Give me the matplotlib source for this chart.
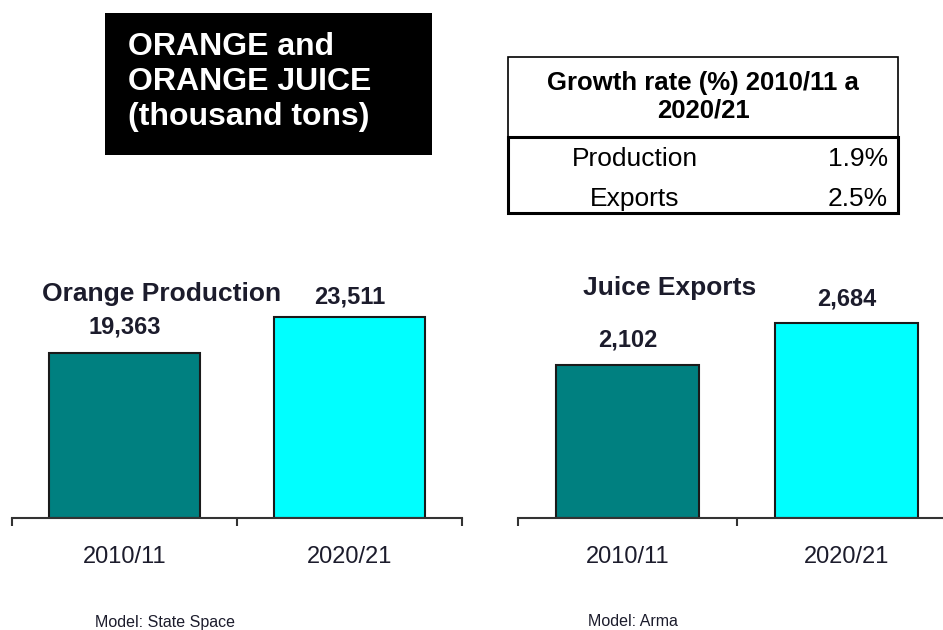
import matplotlib
matplotlib.use("Agg")
import matplotlib.pyplot as plt
from matplotlib.patches import Rectangle

plt.rcParams['font.family'] = ['Liberation Sans', 'DejaVu Sans']

# data
years = ["2010/11", "2020/21"]
orange_production = [19363, 23511]
juice_exports = [2102, 2684]
growth_rows = ["Production", "Exports"]
growth_rates = ["1.9%", "2.5%"]
panel_titles = ["Orange Production", "Juice Exports"]
model_names = ["Model: State Space", "Model: Arma"]

W, H = 943, 630
fig = plt.figure(figsize=(W / 100, H / 100), dpi=100)


def fx(px):
    return px / W


def fy(py):
    return 1 - py / H


bar_colors = ["#008080", "#00FFFF"]
text_color = "#1c1c2c"


def bar_panel(left_px, unit_px, px_per_val, values, bar_w, label_offsets):
    # axes box in pixels: bottom at y=518, 268 px high
    ax = fig.add_axes([fx(left_px), fy(518), fx(2 * unit_px), 268 / H])
    ax.bar(range(len(values)), values, width=bar_w, color=bar_colors,
           edgecolor="#1a1a1a", linewidth=1.5, zorder=2)
    ax.set_xlim(-0.5, 1.5)
    ax.set_ylim(0, 268 / px_per_val)
    for s in ["top", "right", "left"]:
        ax.spines[s].set_visible(False)
    ax.spines["bottom"].set_color("#333333")
    ax.spines["bottom"].set_linewidth(1.5)
    ax.set_yticks([])
    ax.set_xticks([-0.5, 0.5, 1.5])
    ax.set_xticklabels([])
    ax.tick_params(axis="x", direction="out", length=6, width=1.5, color="#333333")
    ax.set_xticks([0, 1], minor=True)
    ax.set_xticklabels(years, minor=True, fontsize=17, color=text_color)
    ax.tick_params(axis="x", which="minor", length=0, pad=20)
    for i, v in enumerate(values):
        ax.annotate(f"{v:,}", (i, v), xytext=(0, label_offsets[i]),
                    textcoords="offset points", ha="center", va="center",
                    fontsize=17, fontweight="bold", color=text_color)
    ax.patch.set_alpha(0)
    return ax


bar_panel(12, 225, 0.00853, orange_production, 0.667, [18.5, 14.5])
bar_panel(518, 219, 0.0728, juice_exports, 0.657, [18, 17])

# panel titles
fig.text(fx(162), fy(294), panel_titles[0], ha="center", va="center",
         fontsize=19, fontweight="bold", color=text_color)
fig.text(fx(670), fy(288), panel_titles[1], ha="center", va="center",
         fontsize=19, fontweight="bold", color=text_color)

# model notes
for x, name in zip([165, 633], model_names):
    fig.text(fx(x), fy(622), name, ha="center", va="center", fontsize=11.5,
             color=text_color)

# black title box
fig.patches.append(Rectangle((fx(105), fy(155)), fx(327), 142 / H,
                             transform=fig.transFigure, facecolor="black",
                             edgecolor="none"))
fig.text(fx(128), fy(82), "ORANGE and\nORANGE JUICE\n(thousand tons)",
         ha="left", va="center", fontsize=23, fontweight="bold",
         color="white", linespacing=1.2)

# growth rate table
fig.patches.append(Rectangle((fx(508), fy(137)), fx(390), 80 / H,
                             transform=fig.transFigure, facecolor="white",
                             edgecolor="black", linewidth=1.2))
fig.patches.append(Rectangle((fx(508), fy(213)), fx(390), 76 / H,
                             transform=fig.transFigure, facecolor="none",
                             edgecolor="black", linewidth=2.2))
fig.text(fx(703), fy(97), "Growth rate (%) 2010/11 a\n2020/21", ha="center",
         va="center", fontsize=18.5, fontweight="bold", color="black",
         linespacing=1.2)
for y, row, rate in zip([159, 199], growth_rows, growth_rates):
    fig.text(fx(635), fy(y), row, ha="center", va="center", fontsize=19, color="black")
    fig.text(fx(888), fy(y), rate, ha="right", va="center", fontsize=19, color="black")

fig.savefig("out.png", dpi=100)
